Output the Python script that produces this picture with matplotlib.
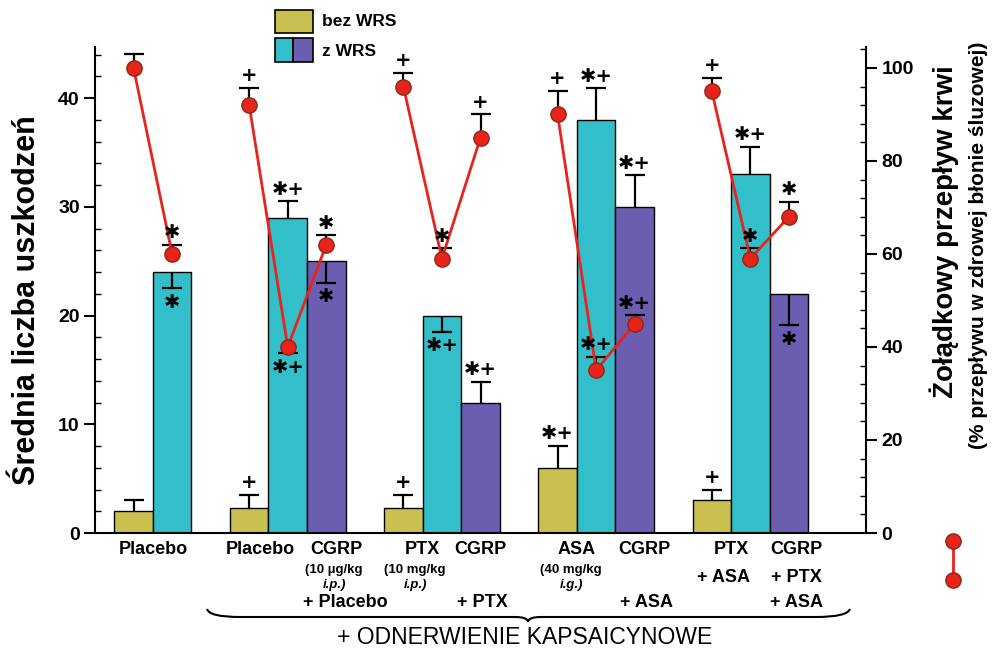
import matplotlib
matplotlib.use("Agg")
import matplotlib.pyplot as plt
import numpy as np
from matplotlib.patches import Rectangle, PathPatch
from matplotlib.path import Path
from matplotlib.lines import Line2D

plt.rcParams['font.family'] = ['Liberation Sans', 'DejaVu Sans']

# srednia liczba uszkodzen (lewa os) - bez WRS / z WRS / z WRS + CGRP
les_bez = [2.0, 2.3, 2.3, 6.0, 3.0]
les_bez_err = [1.0, 1.2, 1.2, 2.0, 1.0]
les_bez_dir = [1, 1, 1, 1, 1]
les_bez_sig = ["", "+", "+", "*+", "+"]

les_wrs = [24.0, 29.0, 20.0, 38.0, 33.0]
les_wrs_err = [1.5, 1.5, 1.5, 2.9, 2.5]
les_wrs_dir = [-1, 1, -1, 1, 1]
les_wrs_sig = ["*", "*+", "*+", "*+", "*+"]

les_cgrp = [25.0, 12.0, 30.0, 22.0]
les_cgrp_err = [2.0, 1.9, 2.9, 2.9]
les_cgrp_dir = [-1, 1, 1, -1]
les_cgrp_sig = ["*", "*+", "*+", "*"]

# zoladkowy przeplyw krwi (prawa os, %)
flow_bez = [100, 92, 96, 90, 95]
flow_bez_err = [3.0, 3.7, 3.0, 5.0, 2.8]
flow_bez_dir = [1, 1, 1, 1, 1]
flow_bez_sig = ["", "+", "+", "+", "+"]

flow_wrs = [60, 40, 59, 35, 59]
flow_wrs_err = [2.0, 1.4, 2.2, 2.8, 2.2]
flow_wrs_dir = [1, -1, 1, 1, 1]
flow_wrs_sig = ["*", "*+", "*", "*+", "*"]

flow_cgrp = [62, 85, 45, 68]
flow_cgrp_err = [2.0, 5.0, 1.8, 3.2]
flow_cgrp_dir = [1, 1, 1, 1]
flow_cgrp_sig = ["*", "+", "*+", "*"]

# podpisy
main_labels = ["Placebo", "Placebo", "CGRP", "PTX", "CGRP", "ASA", "CGRP", "PTX", "CGRP"]
dose_labels = ["(10 µg/kg", "(10 mg/kg", "(40 mg/kg"]
dose_routes = ["i.p.)", "i.p.)", "i.g.)"]
row2_labels = ["+ ASA", "+ PTX"]
row3_labels = ["+ Placebo", "+ PTX", "+ ASA", "+ ASA"]
legend_labels = ["bez WRS", "z WRS"]

c_bez = "#c9c04f"
c_wrs = "#33bfca"
c_cgrp = "#6b5eb0"
c_red = "#e8231c"
c_redge = "#8a2a12"
STAR = "\u2731"

W, H = 1001, 651
fig = plt.figure(figsize=(W / 100, H / 100), dpi=100)


def fx(px):
    return px / W


def fy(py):
    return 1 - py / H


ax = fig.add_axes([fx(95), fy(533), fx(866) - fx(95), fy(47) - fy(533)])
ax2 = ax.twinx()

# polozenia slupkow
x_bez = np.array([1, 4, 8, 12, 16], dtype=float)
x_wrs = x_bez + 1
x_cgrp = x_bez[1:] + 2


def one_sided(a, xs, vals, err, d, z):
    vals = np.array(vals, dtype=float)
    err = np.array(err)
    d = np.array(d)
    lo = np.where(d < 0, err, 0)
    up = np.where(d > 0, err, 0)
    eb = a.errorbar(xs, vals, yerr=[lo, up], fmt='none', ecolor='black',
                    elinewidth=1.6, capsize=7, capthick=1.6, zorder=z)
    # usun kreski na "pustej" stronie
    for cl in eb[1]:
        cx, cy = cl.get_data()
        cx, cy = np.asarray(cx), np.asarray(cy)
        keep = ~np.isclose(cy, vals)
        cl.set_data(cx[keep], cy[keep])


def sig_labels(a, xs, vals, errs, dirs, sigs):
    for x, v, e, d, s in zip(xs, vals, errs, dirs, sigs):
        if not s:
            continue
        a.annotate(s.replace("*", STAR), (x, v + d * e), xytext=(0, 2 if d > 0 else -3),
                   textcoords='offset points', ha='center',
                   va='bottom' if d > 0 else 'top', fontsize=14, fontweight='bold',
                   family=['DejaVu Sans'], zorder=6)


for xs, vals, errs, dirs, sigs, col in [
        (x_bez, les_bez, les_bez_err, les_bez_dir, les_bez_sig, c_bez),
        (x_wrs, les_wrs, les_wrs_err, les_wrs_dir, les_wrs_sig, c_wrs),
        (x_cgrp, les_cgrp, les_cgrp_err, les_cgrp_dir, les_cgrp_sig, c_cgrp)]:
    ax.bar(xs, vals, width=1.0, color=col, edgecolor='black', linewidth=1.0, zorder=2)
    one_sided(ax, xs, vals, errs, dirs, 3)
    sig_labels(ax, xs, vals, errs, dirs, sigs)

# przeplyw - czerwone linie w obrebie grup
for i in range(len(x_bez)):
    xs = [x_bez[i], x_wrs[i]]
    ys = [flow_bez[i], flow_wrs[i]]
    if i > 0:
        xs.append(x_cgrp[i - 1])
        ys.append(flow_cgrp[i - 1])
    ax2.plot(xs, ys, color=c_red, lw=2, marker='o', ms=11, mfc=c_red, mec=c_redge,
             mew=1.0, zorder=5)

for xs, vals, errs, dirs, sigs in [
        (x_bez, flow_bez, flow_bez_err, flow_bez_dir, flow_bez_sig),
        (x_wrs, flow_wrs, flow_wrs_err, flow_wrs_dir, flow_wrs_sig),
        (x_cgrp, flow_cgrp, flow_cgrp_err, flow_cgrp_dir, flow_cgrp_sig)]:
    one_sided(ax2, xs, vals, errs, dirs, 4)
    sig_labels(ax2, xs, vals, errs, dirs, sigs)

# osie
ax.set_xlim(0, 20)
ax.set_ylim(0, 44.7)
ax2.set_ylim(0, 104.5)
ax.set_xticks([])
ax.set_yticks([0, 10, 20, 30, 40])
ax.set_yticks(np.arange(0, 45, 2), minor=True)
ax2.set_yticks([0, 20, 40, 60, 80, 100])
ax2.set_yticks(np.arange(0, 105, 4), minor=True)
for a in (ax, ax2):
    a.tick_params(which='major', direction='out', length=8, width=1.5, labelsize=14, pad=3)
    a.tick_params(which='minor', direction='in', length=4, width=1.0)
    for lab in a.get_yticklabels():
        lab.set_fontweight('bold')
    a.spines['top'].set_visible(False)
    for s in a.spines.values():
        s.set_linewidth(1.5)
ax.spines['right'].set_visible(False)
ax2.spines['left'].set_visible(False)
ax2.spines['bottom'].set_visible(False)

fig.text(fx(27), fy(300), "Średnia liczba uszkodzeń", rotation=90, ha='center', va='center',
         fontsize=22, fontweight='bold')
fig.text(fx(944), fy(232), "Żołądkowy przepływ krwi", rotation=90, ha='center', va='center',
         fontsize=20, fontweight='bold')
fig.text(fx(978), fy(245), "(% przepływu w zdrowej błonie śluzowej)", rotation=90,
         ha='center', va='center', fontsize=15, fontweight='bold')

# podpisy pod osia
trans = ('data', 'axes fraction')
main_x = [1.5, 4.3, 6.25, 8.5, 10.0, 12.5, 14.25, 16.5, 18.2]
for x, t in zip(main_x, main_labels):
    ax.annotate(t, (x, 0), xycoords=trans, xytext=(0, -12), textcoords='offset points',
                ha='center', va='center', fontsize=13, fontweight='bold')
for x, t, r in zip([6.2, 8.3, 12.35], dose_labels, dose_routes):
    ax.annotate(t, (x, 0), xycoords=trans, xytext=(0, -27), textcoords='offset points',
                ha='center', va='center', fontsize=9.5, fontweight='bold')
    ax.annotate(r, (x, 0), xycoords=trans, xytext=(0, -37.5), textcoords='offset points',
                ha='center', va='center', fontsize=9.5, fontweight='bold', style='italic')
for x, t in zip([16.3, 18.2], row2_labels):
    ax.annotate(t, (x, 0), xycoords=trans, xytext=(0, -32), textcoords='offset points',
                ha='center', va='center', fontsize=13, fontweight='bold')
for x, t in zip([6.5, 10.05, 14.3, 18.2], row3_labels):
    ax.annotate(t, (x, 0), xycoords=trans, xytext=(0, -50), textcoords='offset points',
                ha='center', va='center', fontsize=13, fontweight='bold')

# klamra
bx = [207, 209, 240, 515, 528, 528, 528, 541, 816, 847, 850]
by = [609, 617, 617, 617, 617, 622, 617, 617, 617, 617, 609]
codes = [Path.MOVETO, Path.CURVE3, Path.CURVE3, Path.LINETO, Path.CURVE3, Path.CURVE3,
         Path.CURVE3, Path.CURVE3, Path.LINETO, Path.CURVE3, Path.CURVE3]
brace = Path([(fx(a), fy(b)) for a, b in zip(bx, by)], codes)
fig.add_artist(PathPatch(brace, transform=fig.transFigure, fill=False, lw=1.5, ec='black'))
fig.text(fx(525), fy(638), "+ ODNERWIENIE KAPSAICYNOWE", ha='center', va='center', fontsize=16.5)

# legenda
fig.add_artist(Rectangle((fx(275), fy(33)), fx(38), fy(10) - fy(33), transform=fig.transFigure,
                         fc=c_bez, ec='black', lw=1.2))
fig.add_artist(Rectangle((fx(275), fy(62)), fx(18), fy(38) - fy(62), transform=fig.transFigure,
                         fc=c_wrs, ec='black', lw=1.2))
fig.add_artist(Rectangle((fx(293), fy(62)), fx(20), fy(38) - fy(62), transform=fig.transFigure,
                         fc=c_cgrp, ec='black', lw=1.2))
fig.text(fx(322), fy(21), legend_labels[0], ha='left', va='center', fontsize=12.5, fontweight='bold')
fig.text(fx(322), fy(51), legend_labels[1], ha='left', va='center', fontsize=12.5, fontweight='bold')
fig.add_artist(Line2D([fx(953), fx(953)], [fy(541), fy(580)], transform=fig.transFigure,
                      color=c_red, lw=2, marker='o', ms=11, mfc=c_red, mec=c_redge))

fig.savefig("out.png", dpi=100)
